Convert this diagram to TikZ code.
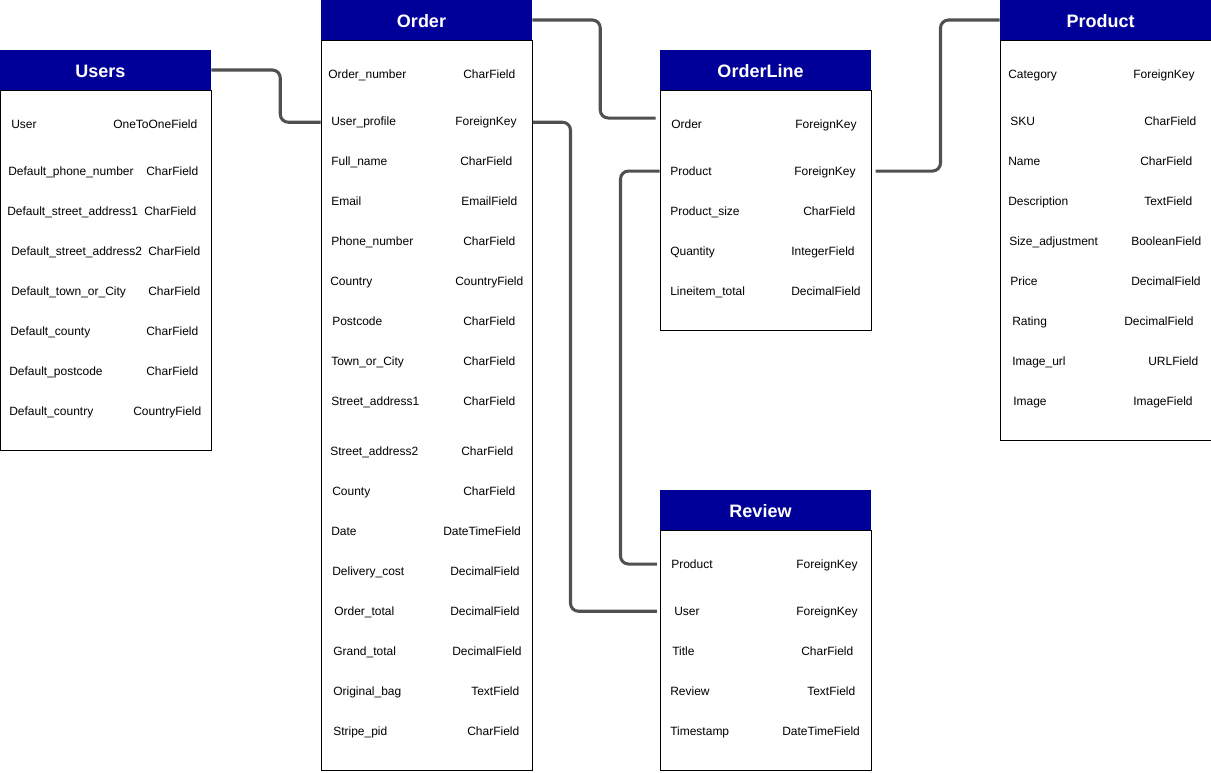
\documentclass[tikz,border=0pt]{standalone}
\usepackage{fontspec}
\setmainfont{Liberation Sans}
\definecolor{hdrblue}{HTML}{000099}
\definecolor{connc}{HTML}{505050}
\begin{document}
\begin{tikzpicture}[x=0.75pt,y=-0.75pt,
 hdr/.style={fill=hdrblue, text=white, font=\fontsize{13.5}{15}\selectfont\bfseries, minimum width=158.25pt, minimum height=30pt, inner sep=0pt, text height=1.08em, text depth=0pt, execute at begin node={\kern-7.5pt}},
 bodybox/.style={draw=black, line width=0.75pt, fill=white, minimum width=158.25pt, inner sep=0pt, anchor=north},
 fld/.style={anchor=mid west, inner sep=0pt, font=\fontsize{9}{10}\selectfont, yshift=-0.6pt},
 conn/.style={draw=connc, line width=2.3pt, rounded corners=6pt}]
\useasboundingbox (0,0) rectangle (1211,772);

% ---------- Users ----------
\node[hdr] (uh) at (105.5,70) {Users};
\node[bodybox, minimum height=270pt] (ub) at (uh.south) {};
\foreach \a/\xa/\b/\xb/\yy [count=\i] in {
 User/11/OneToOneField/113/124,
 Default\_phone\_number/8/CharField/146/171,
 Default\_street\_address1/7/CharField/144/211,
 Default\_street\_address2/11/CharField/148/251,
 Default\_town\_or\_City/11/CharField/148/291,
 Default\_county/10/CharField/146/331,
 Default\_postcode/9/CharField/146/371,
 Default\_country/9/CountryField/133/411}
 {\node[fld] (u-\i-n) at (\xa,\yy) {\a}; \node[fld] (u-\i-t) at (\xb,\yy) {\b};}

% ---------- Order ----------
\node[hdr] (oh) at (426.5,20) {Order};
\node[bodybox, minimum height=547.5pt] (ob) at (oh.south) {};
\foreach \a/\xa/\b/\xb/\yy [count=\i] in {
 Order\_number/328/CharField/463/74,
 User\_profile/331/ForeignKey/455/121,
 Full\_name/331/CharField/460/161,
 Email/331/EmailField/461/201,
 Phone\_number/331/CharField/463/241,
 Country/330/CountryField/455/281,
 Postcode/332/CharField/463/321,
 Town\_or\_City/331/CharField/463/361,
 Street\_address1/331/CharField/463/401,
 Street\_address2/330/CharField/461/451,
 County/332/CharField/463/491,
 Date/331/DateTimeField/443/531,
 Delivery\_cost/332/DecimalField/450/571,
 Order\_total/334/DecimalField/450/611,
 Grand\_total/333/DecimalField/452/651,
 Original\_bag/333/TextField/471/691,
 Stripe\_pid/333/CharField/467/731}
 {\node[fld] (o-\i-n) at (\xa,\yy) {\a}; \node[fld] (o-\i-t) at (\xb,\yy) {\b};}

% ---------- OrderLine ----------
\node[hdr] (olh) at (765.5,70) {OrderLine};
\node[bodybox, minimum height=180pt] (olb) at (olh.south) {};
\foreach \a/\xa/\b/\xb/\yy [count=\i] in {
 Order/671/ForeignKey/795/124,
 Product/670/ForeignKey/794/171,
 Product\_size/670/CharField/803/211,
 Quantity/670/IntegerField/791/251,
 Lineitem\_total/670/DecimalField/791/291}
 {\node[fld] (ol-\i-n) at (\xa,\yy) {\a}; \node[fld] (ol-\i-t) at (\xb,\yy) {\b};}

% ---------- Product ----------
\node[hdr] (ph) at (1105.5,20) {Product};
\node[bodybox, minimum height=300pt] (pb) at (ph.south) {};
\foreach \a/\xa/\b/\xb/\yy [count=\i] in {
 Category/1008/ForeignKey/1133/74,
 SKU/1010/CharField/1144/121,
 Name/1008/CharField/1140/161,
 Description/1008/TextField/1144/201,
 Size\_adjustment/1009/BooleanField/1131/241,
 Price/1010/DecimalField/1131/281,
 Rating/1012/DecimalField/1124/321,
 Image\_url/1012/URLField/1148/361,
 Image/1013/ImageField/1133/401}
 {\node[fld] (p-\i-n) at (\xa,\yy) {\a}; \node[fld] (p-\i-t) at (\xb,\yy) {\b};}

% ---------- Review ----------
\node[hdr] (rvh) at (765.5,510) {Review};
\node[bodybox, minimum height=180pt] (rvb) at (rvh.south) {};
\foreach \a/\xa/\b/\xb/\yy [count=\i] in {
 Product/671/ForeignKey/796/564,
 User/674/ForeignKey/796/611,
 Title/672/CharField/801/651,
 Review/670/TextField/807/691,
 Timestamp/670/DateTimeField/782/731}
 {\node[fld] (rv-\i-n) at (\xa,\yy) {\a}; \node[fld] (rv-\i-t) at (\xb,\yy) {\b};}

% ---------- Connectors ----------
\draw[conn] (uh.east) -- ++(69,0) |- (ob.west |- o-2-n);
\draw[conn] (oh.east) -- ++(68,0) |- ([xshift=-3pt,yshift=4.5pt]olb.west |- ol-1-n);
\draw[conn] (ob.east |- o-2-n) -- ++(38,0) |- ([xshift=-2pt]rvb.west |- rv-2-n);
\draw[conn] (olb.west |- ol-2-n) -- ++(-39,0) |- ([xshift=-2pt]rvb.west |- rv-1-n);
\draw[conn] ([xshift=3pt]olb.east |- ol-2-n) -- ++(65,0) |- (ph.west);
\end{tikzpicture}
\end{document}
